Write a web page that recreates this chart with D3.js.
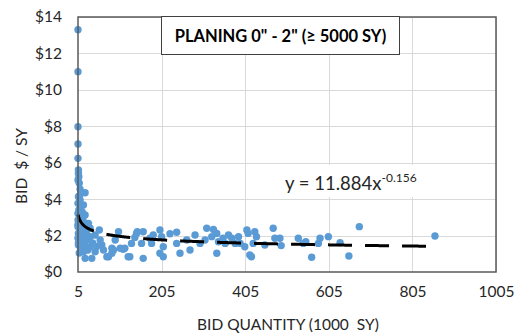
<!DOCTYPE html>
<html>
<head>
<meta charset="utf-8">
<script src="https://cdn.jsdelivr.net/npm/d3@7"></script>
<style>
  html, body { margin: 0; padding: 0; background: #fff; }
  svg { display: block; font-family: Lato, "Open Sans", sans-serif; }
  svg text { white-space: pre; }
</style>
</head>
<body>
<svg id="chart" width="514" height="336"></svg>
<script>
// Bid quantity (1000 SY) and unit bid price ($/SY) for each bid
const bidQty = [
  5, 5, 5, 5, 5, 6, 6, 7, 5, 8, 10, 22, 6, 10, 5, 18, 7, 5, 22, 5, 18, 30, 5, 14, 34,
  56, 102, 6, 22, 46, 5, 26, 58, 6, 34, 62, 18, 46, 66, 90, 106, 117, 22, 38, 78, 125,
  8, 34, 8, 12, 10, 15, 8, 12, 20, 16, 25, 40, 12, 9, 15, 7, 28, 50, 5, 11, 6, 9,
  147, 145, 161, 185, 201, 205, 225, 241, 241, 265, 133, 157, 181, 201, 209, 129, 161,
  249, 74, 86, 94, 113, 209, 141, 177, 352, 86,
  285, 273, 297, 313, 329, 337, 325, 309, 337, 365, 373, 357, 389, 409, 412, 428, 432,
  404, 424, 420, 452, 472, 341, 381, 393,
  476, 488, 491, 532, 544, 550, 584, 604, 580, 564, 632, 653, 678, 859, 416
];
const bidPrice = [
  13.3, 11.0, 7.98, 7.03, 6.24, 5.6, 5.42, 5.23, 5.05, 4.87, 4.54, 4.35, 4.13, 3.95, 3.77, 3.68, 3.4, 3.22, 3.13, 2.85, 2.76, 2.67, 2.49, 2.4, 2.4,
  2.31, 2.21, 2.12, 2.03, 2.03, 1.85, 1.76, 1.76, 1.48, 1.39, 1.48, 1.11, 1.11, 1.21, 1.21, 1.3, 1.3, 0.75, 0.75, 0.84, 0.84,
  1.04, 1.94, 3.0, 2.6, 2.2, 1.9, 1.7, 1.3, 1.5, 2.9, 2.2, 1.6, 3.6, 4.2, 3.3, 1.9, 1.2, 1.4, 2.6, 2.0, 1.6, 2.4,
  2.21, 2.12, 2.21, 2.03, 2.31, 1.94, 2.1, 2.18, 1.57, 1.76, 1.57, 1.57, 1.57, 1.03, 0.84, 0.84, 0.75,
  1.03, 0.84, 1.03, 1.76, 1.25, 1.39, 1.9, 1.85, 1.85, 1.3,
  2.03, 1.21, 1.57, 2.4, 2.34, 2.12, 1.94, 1.76, 1.03, 2.03, 1.85, 1.57, 1.94, 2.31, 2.12, 2.21, 1.94,
  1.39, 1.57, 0.84, 1.48, 2.4, 1.66, 1.57, 1.57,
  1.85, 1.85, 1.45, 1.85, 1.57, 1.66, 1.85, 1.94, 1.57, 0.81, 1.61, 0.88, 2.49, 1.98, 0.93
];

// Axis ticks
const xTicks = [5, 205, 405, 605, 805, 1005];
const yTicks = [0, 2, 4, 6, 8, 10, 12, 14];

// Power trendline y = a * x^b (x in SY)
const trendA = 11.884;
const trendB = -0.156;

const chartTitle = 'PLANING 0" - 2" (\u2265 5000 SY)';
const xTitle = "BID QUANTITY (1000  SY)";
const yTitle = "BID  $ / SY";

const svg = d3.select("#chart");
const plot = { left: 78, right: 496, top: 17, bottom: 272 };

const x = d3.scaleLinear().domain([5, 1005]).range([plot.left, plot.right]);
const y = d3.scaleLinear().domain([0, 14]).range([plot.bottom, plot.top]);

// Gridlines
const grid = svg.append("g").attr("stroke", "#d9d9d9").attr("stroke-width", 1);
grid.selectAll("line.h").data(yTicks.slice(1)).join("line")
  .attr("x1", plot.left).attr("x2", plot.right)
  .attr("y1", d => Math.round(y(d)) + 0.5).attr("y2", d => Math.round(y(d)) + 0.5);
grid.selectAll("line.v").data(xTicks.slice(1)).join("line")
  .attr("y1", plot.top).attr("y2", plot.bottom)
  .attr("x1", d => Math.round(x(d)) + 0.5).attr("x2", d => Math.round(x(d)) + 0.5);

// Axes (labels only, Excel-style)
const xAxis = d3.axisBottom(x).tickValues(xTicks).tickSize(0).tickPadding(14)
  .tickFormat(d3.format("d"));
const gx = svg.append("g").attr("transform", `translate(0,${plot.bottom})`).call(xAxis);
gx.select(".domain").remove();
gx.selectAll("text").attr("font-size", 15.5).attr("fill", "#262626")
  .attr("font-family", "Lato, sans-serif");

const yAxis = d3.axisLeft(y).tickValues(yTicks).tickSize(0).tickPadding(16)
  .tickFormat(d => "$" + d);
const gy = svg.append("g").attr("transform", `translate(${plot.left},0)`).call(yAxis);
gy.select(".domain").remove();
gy.selectAll("text").attr("font-size", 15.5).attr("fill", "#262626")
  .attr("font-family", "Lato, sans-serif");

// Trendline label with white backing
svg.append("rect").attr("x", 281).attr("y", 165).attr("width", 150).attr("height", 32)
  .attr("fill", "#fff");
const eq = svg.append("text").attr("x", 285).attr("y", 190)
  .attr("font-size", 18.5).attr("fill", "#262626");
eq.append("tspan").text("y = " + trendA + "x");
eq.append("tspan").attr("dy", -8).attr("font-size", 12).text(trendB);

// Data points
svg.append("g").selectAll("circle").data(d3.zip(bidQty, bidPrice)).join("circle")
  .attr("cx", d => x(d[0])).attr("cy", d => y(d[1])).attr("r", 3.7)
  .attr("fill", "#5b9bd5");

// Power trendline across the data range
const xMin = d3.min(bidQty), xMax = d3.max(bidQty);
const trendPts = d3.range(xMin, xMax, 1).concat([xMax])
  .map(q => [q, trendA * Math.pow(q * 1000, trendB)]);
svg.append("path").datum(trendPts)
  .attr("fill", "none").attr("stroke", "#000").attr("stroke-width", 3)
  .attr("stroke-dasharray", "24,13")
  .attr("d", d3.line().x(d => x(d[0])).y(d => y(d[1])));

// Plot area border
svg.append("rect").attr("x", plot.left).attr("y", plot.top)
  .attr("width", plot.right - plot.left).attr("height", plot.bottom - plot.top)
  .attr("fill", "none").attr("stroke", "#595959").attr("stroke-width", 1.5);

// Title box
svg.append("rect").attr("x", 161.5).attr("y", 16.5).attr("width", 238).attr("height", 38)
  .attr("fill", "#fff").attr("stroke", "#404040").attr("stroke-width", 1);
svg.append("text").attr("x", 280.5).attr("y", 41.5).attr("text-anchor", "middle")
  .attr("font-size", 16.5).attr("font-weight", "bold").attr("fill", "#000")
  .text(chartTitle);

// Axis titles
svg.append("text").attr("x", 288).attr("y", 330).attr("text-anchor", "middle")
  .attr("font-size", 15.5).attr("fill", "#262626").text(xTitle);
svg.append("text").attr("transform", "translate(27,166) rotate(-90)")
  .attr("text-anchor", "middle").attr("font-size", 15.5).attr("fill", "#262626")
  .text(yTitle);
</script>
</body>
</html>
